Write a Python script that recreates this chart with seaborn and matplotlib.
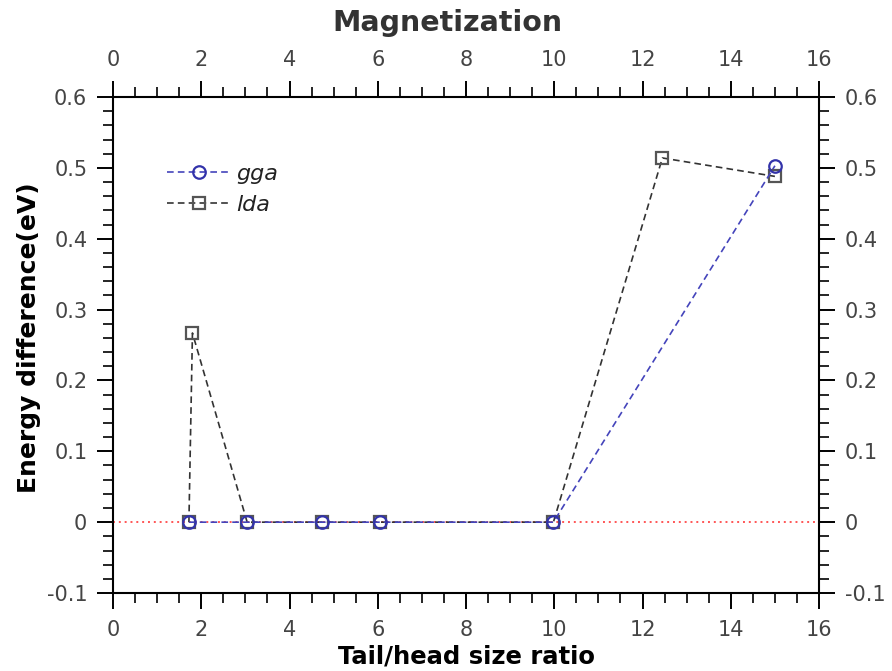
import matplotlib
matplotlib.use("Agg")
import matplotlib.pyplot as plt
from matplotlib.ticker import MultipleLocator
import pandas as pd
import seaborn as sns

# Energy difference versus tail/head size ratio for two functionals
gga_x = [1.72, 3.04, 4.74, 6.05, 9.98, 15.0]
gga_y = [0.0, 0.0, 0.0, 0.0, 0.0, 0.503]
lda_x = [1.72, 1.80, 3.04, 4.74, 6.05, 9.98, 12.45, 15.0]
lda_y = [0.0, 0.267, 0.0, 0.0, 0.0, 0.0, 0.514, 0.488]

x_ticks = [0, 2, 4, 6, 8, 10, 12, 14, 16]
y_ticks = [-0.1, 0, 0.1, 0.2, 0.3, 0.4, 0.5, 0.6]
y_tick_labels = ["-0.1", "0", "0.1", "0.2", "0.3", "0.4", "0.5", "0.6"]

df = pd.concat([
    pd.DataFrame({"ratio": gga_x, "energy": gga_y, "method": "gga"}),
    pd.DataFrame({"ratio": lda_x, "energy": lda_y, "method": "lda"}),
], ignore_index=True)

sns.set_style("ticks")
plt.rcParams["font.family"] = ["DejaVu Sans"]

fig = plt.figure(figsize=(8.92, 6.71), dpi=100)
ax = fig.add_axes([0.1267, 0.1162, 0.7915, 0.7392])

tick_color = "#444444"
styles = {
    "gga": dict(color="#4444bb", mec="#3333aa", marker="o"),
    "lda": dict(color="#333333", mec="#555555", marker="s"),
}

# reference line at zero
ax.axhline(0, color="#ff5555", linestyle=(0, (1, 2)), linewidth=1.4, zorder=1)

handles = {}
for name in ["lda", "gga"]:
    sub = df[df["method"] == name]
    st = styles[name]
    sns.lineplot(data=sub, x="ratio", y="energy", sort=False, estimator=None,
                 ax=ax, color=st["color"], linewidth=1.2,
                 marker=st["marker"], markersize=9, markerfacecolor="none",
                 markeredgecolor=st["mec"], markeredgewidth=1.6,
                 label=name, zorder=3)
    line = ax.lines[-1]
    line.set_linestyle((0, (4, 2.5)))
    handles[name] = line

ax.set_xlim(0, 16)
ax.set_ylim(-0.1, 0.6)
ax.set_xticks(x_ticks)
ax.set_yticks(y_ticks)
ax.set_yticklabels(y_tick_labels)
ax.xaxis.set_minor_locator(MultipleLocator(0.5))
ax.yaxis.set_minor_locator(MultipleLocator(0.02))

for s in ax.spines.values():
    s.set_linewidth(1.5)
    s.set_color("black")
    s.set_visible(True)

ax.tick_params(which="major", direction="out", length=11.5, width=1.4,
               labelsize=15, labelcolor=tick_color, color="black",
               top=True, right=True, labeltop=True, labelright=True, pad=7)
ax.tick_params(axis="x", which="major", pad=8)
ax.tick_params(which="minor", direction="out", length=7, width=1.2,
               top=True, right=True, color="black")

ax.set_xlabel("Tail/head size ratio", fontsize=17.5, fontweight="bold",
              color="black", labelpad=3)
ax.set_ylabel("Energy difference(eV)", fontsize=18, fontweight="bold",
              color="black", labelpad=4)
ax.yaxis.set_label_coords(-0.102, 0.515)

fig.text(0.502, 0.965, "Magnetization", ha="center", va="center",
         fontsize=20.5, fontweight="bold", color="#333333")

leg = ax.legend([handles["gga"], handles["lda"]], ["gga", "lda"],
                loc="upper left", bbox_to_anchor=(0.0765, 0.865), frameon=False,
                fontsize=16, handlelength=2.9, handletextpad=0.2,
                labelspacing=0.5, borderaxespad=0, borderpad=0)
for t in leg.get_texts():
    t.set_fontstyle("italic")
    t.set_color("#222222")

fig.savefig("out.png", dpi=100)
